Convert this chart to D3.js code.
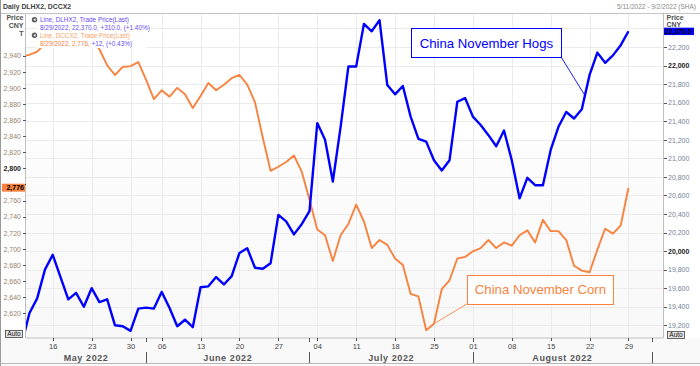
<!DOCTYPE html>
<html lang="en">
<head>
    <meta charset="UTF-8">
    <script src="https://d3js.org/d3.v7.min.js"></script>
    <title>DLHX2, DCCX2</title>
    <style>
        body { margin: 0; background: #ffffff; }
        svg { display: block; font-family: 'Liberation Sans', Arial, sans-serif; }
        .tick line { shape-rendering: crispEdges; }
    </style>
</head>
<body>
<svg id="chart" width="700" height="366"></svg>
<script>
// trading days shown on the axis (Shanghai calendar, 3 Jun holiday)
let dates = [
    '2022-05-10','2022-05-11','2022-05-12','2022-05-13',
    '2022-05-16','2022-05-17','2022-05-18','2022-05-19','2022-05-20',
    '2022-05-23','2022-05-24','2022-05-25','2022-05-26','2022-05-27',
    '2022-05-30','2022-05-31','2022-06-01','2022-06-02',
    '2022-06-06','2022-06-07','2022-06-08','2022-06-09','2022-06-10',
    '2022-06-13','2022-06-14','2022-06-15','2022-06-16','2022-06-17',
    '2022-06-20','2022-06-21','2022-06-22','2022-06-23','2022-06-24',
    '2022-06-27','2022-06-28','2022-06-29','2022-06-30','2022-07-01',
    '2022-07-04','2022-07-05','2022-07-06','2022-07-07','2022-07-08',
    '2022-07-11','2022-07-12','2022-07-13','2022-07-14','2022-07-15',
    '2022-07-18','2022-07-19','2022-07-20','2022-07-21','2022-07-22',
    '2022-07-25','2022-07-26','2022-07-27','2022-07-28','2022-07-29',
    '2022-08-01','2022-08-02','2022-08-03','2022-08-04','2022-08-05',
    '2022-08-08','2022-08-09','2022-08-10','2022-08-11','2022-08-12',
    '2022-08-15','2022-08-16','2022-08-17','2022-08-18','2022-08-19',
    '2022-08-22','2022-08-23','2022-08-24','2022-08-25','2022-08-26',
    '2022-08-29','2022-08-30','2022-08-31','2022-09-01','2022-09-02'
]

// China November Hogs (DLHX2), CNY/T, from 10 May to 29 Aug
let hogs = [
    18990, 19330, 19490, 19800,
    19960, 19720, 19480, 19550, 19400,
    19600, 19450, 19480, 19200, 19190,
    19140, 19380, 19390, 19380,
    19560, 19390, 19190, 19260, 19180,
    19610, 19620, 19720, 19640, 19730,
    19980, 20030, 19820, 19810, 19870,
    20390, 20320, 20180, 20290, 20430,
    21380, 21200, 20750, 21340, 21990,
    21990, 22450, 22370, 22490, 21790,
    21690, 21780, 21450, 21210, 21180,
    20980, 20870, 20980, 21610, 21650,
    21450, 21360, 21250, 21130, 21300,
    20980, 20570, 20790, 20710, 20710,
    21090, 21340, 21500, 21430, 21530,
    21900, 22140, 22030, 22110, 22220,
    22370
]

// China November Corn (DCCX2), CNY/T, same days
let corn = [
    2939, 2941, 2945, 2955,
    2966, 2972, 2968, 2975, 2970,
    2960, 2948, 2928, 2916, 2926,
    2927, 2932, 2910, 2886,
    2897, 2889, 2900, 2892, 2875,
    2890, 2906, 2897, 2904, 2912,
    2916, 2904, 2882, 2838, 2797,
    2802, 2808, 2816, 2796, 2761,
    2724, 2717, 2685, 2717, 2731,
    2755, 2734, 2701, 2711, 2705,
    2688, 2680, 2644, 2641, 2599,
    2607, 2650, 2661, 2688, 2690,
    2697, 2701, 2711, 2701, 2708,
    2704, 2717, 2723, 2708, 2736,
    2722, 2722, 2711, 2679, 2673,
    2671, 2699, 2725, 2719, 2729,
    2776
]

let cornTicks = d3.range(2620, 2941, 20)
let hogTicks = d3.range(19200, 22401, 200)
let legendLines = [
    ['Line, DLHX2, Trade Price(Last)'],
    ['8/29/2022, 22,370.0, +310.0, (+1.40%)'],
    ['Line, DCCX2, Trade Price(Last)'],
    ['8/29/2022, 2,776, ', '+12, (+0.43%)']
]

const BLUE = '#0000ff'
const ORANGE = '#f7833f'
const LEGBLUE = '#6a4cf5'
const pL = 26, pR = 663, pT = 13, pB = 338

let parse = d3.timeParse('%Y-%m-%d')
let days = dates.map(parse)
let svg = d3.select('#chart')

let x = d3.scaleLinear().domain([0.5, dates.length - 0.5]).range([25.5, 663.5])
let yL = d3.scaleLinear().domain([2589.3, 2993]).range([pB, pT])
let yR = d3.scaleLinear().domain([19063, 22567]).range([pB, pT])

// plot background
let defs = svg.append('defs')
let grad = defs.append('linearGradient')
    .attr('id', 'bg').attr('x1', 0).attr('y1', 0).attr('x2', 0).attr('y2', 1)
grad.append('stop').attr('offset', '0.38').attr('stop-color', '#ffffff')
grad.append('stop').attr('offset', '0.42').attr('stop-color', '#fcfcfc')
grad.append('stop').attr('offset', '1').attr('stop-color', '#f8f8f8')
defs.append('clipPath').attr('id', 'plotclip')
    .append('rect').attr('x', pL).attr('y', pT)
    .attr('width', pR - pL).attr('height', pB - pT)

svg.append('rect').attr('x', 0).attr('y', pB).attr('width', 700).attr('height', 366 - pB)
    .attr('fill', '#f9f9f9')
svg.append('rect').attr('x', pL).attr('y', pT).attr('width', pR - pL).attr('height', pB - pT)
    .attr('fill', 'url(#bg)')

// grid
let mondays = days.map((d, i) => i).filter(i => days[i].getDay() === 1)
let monthStarts = days.map((d, i) => i).filter(i => i > 0 && days[i].getMonth() !== days[i - 1].getMonth())

svg.append('g').selectAll('line').data(hogTicks).enter().append('line')
    .attr('x1', pL).attr('x2', pR)
    .attr('y1', d => Math.round(yR(d)) + 0.5).attr('y2', d => Math.round(yR(d)) + 0.5)
    .attr('stroke', '#ebebeb')
svg.append('g').selectAll('line').data(mondays).enter().append('line')
    .attr('x1', d => Math.round(x(d)) + 0.5).attr('x2', d => Math.round(x(d)) + 0.5)
    .attr('y1', pT).attr('y2', pB)
    .attr('stroke', '#ebebeb')

// series
let plot = svg.append('g').attr('clip-path', 'url(#plotclip)')
plot.append('path').datum(corn)
    .attr('d', d3.line().x((d, i) => x(i)).y(d => yL(d)))
    .attr('fill', 'none').attr('stroke', ORANGE).attr('stroke-width', 1.9)
    .attr('stroke-linejoin', 'round')
plot.append('path').datum(hogs)
    .attr('d', d3.line().x((d, i) => x(i)).y(d => yR(d)))
    .attr('fill', 'none').attr('stroke', BLUE).attr('stroke-width', 2.4)
    .attr('stroke-linejoin', 'round')

// frame
svg.append('line').attr('x1', 0).attr('x2', 700).attr('y1', pT + 0.5).attr('y2', pT + 0.5).attr('stroke', '#c4c4c4')
svg.append('line').attr('x1', 0.5).attr('x2', 0.5).attr('y1', 0).attr('y2', 366).attr('stroke', '#9a9a9a')
svg.append('line').attr('x1', 0).attr('x2', 700).attr('y1', 363.5).attr('y2', 363.5).attr('stroke', '#b8b8b8')

// left axis (corn)
let lastIdx = hogs.length - 1
let lastHog = hogs[lastIdx], lastCorn = corn[lastIdx]
let axL = svg.append('g').attr('transform', 'translate(25.5,0)')
    .call(d3.axisLeft(yL).tickValues(cornTicks).tickSize(3).tickSizeOuter(0).tickPadding(1.5)
        .tickFormat(d3.format(',')))
axL.select('.domain').attr('stroke', '#c0c0c0').attr('d', `M0,${pT}V${pB}`)
axL.selectAll('.tick line').attr('stroke', '#555')
axL.selectAll('.tick text')
    .attr('font-size', 7).attr('font-family', null)
    .attr('fill', d => d % 200 === 0 ? '#222' : '#9a8068')
    .attr('font-weight', d => d % 200 === 0 ? 'bold' : 'normal')
    .style('display', d => Math.abs(yL(d) - yL(lastCorn)) < 7 ? 'none' : null)

// right axis (hogs)
let axR = svg.append('g').attr('transform', 'translate(663.5,0)')
    .call(d3.axisRight(yR).tickValues(hogTicks).tickSize(3).tickSizeOuter(0).tickPadding(1.5)
        .tickFormat(d3.format(',')))
axR.select('.domain').attr('stroke', '#c0c0c0').attr('d', `M0,${pT}V${pB}`)
axR.selectAll('.tick line').attr('stroke', '#555')
axR.selectAll('.tick text')
    .attr('font-size', 7).attr('font-family', null)
    .attr('fill', d => d % 2000 === 0 ? '#222' : '#76809c')
    .attr('font-weight', d => d % 2000 === 0 ? 'bold' : 'normal')
    .style('display', d => Math.abs(yR(d) - yR(lastHog)) < 7 ? 'none' : null)

// bottom axis
let axB = svg.append('g').attr('transform', `translate(0,${pB})`)
    .call(d3.axisBottom(x).tickValues(mondays).tickSize(3).tickSizeOuter(0).tickPadding(3)
        .tickFormat(i => d3.timeFormat('%d')(days[i])))
axB.select('.domain').attr('stroke', '#c0c0c0').attr('d', `M${pL},0H${pR}`)
axB.selectAll('.tick line').attr('stroke', '#555')
axB.selectAll('.tick text').attr('font-size', 7.5).attr('font-family', null).attr('fill', '#444')

// month separators and labels
svg.append('g').selectAll('line').data(monthStarts).enter().append('line')
    .attr('x1', d => Math.round(x(d)) + 0.5).attr('x2', d => Math.round(x(d)) + 0.5)
    .attr('y1', pB).attr('y2', pB + 4)
    .attr('stroke', '#555')
svg.append('g').selectAll('line').data(monthStarts).enter().append('line')
    .attr('x1', d => Math.round(x(d)) + 0.5).attr('x2', d => Math.round(x(d)) + 0.5)
    .attr('y1', 352).attr('y2', 363)
    .attr('stroke', '#555')
let edges = [pL].concat(monthStarts.map(i => x(i)))
let months = edges.slice(0, -1).map((e, k) => ({
    label: d3.timeFormat('%B %Y')(days[k === 0 ? 0 : monthStarts[k - 1]]),
    cx: (e + edges[k + 1]) / 2
}))
svg.append('g').selectAll('text').data(months).enter().append('text')
    .attr('x', d => d.cx).attr('y', 360.5)
    .attr('text-anchor', 'middle').attr('font-size', 9).attr('font-weight', 'bold')
    .attr('letter-spacing', 0.6).attr('fill', '#555')
    .text(d => d.label)

// axis titles (right "T" sits under the last-value box in the original)
;[['Price', 20], ['CNY', 28], ['T', 36]].forEach(t => {
    svg.append('text').attr('x', 23.5).attr('y', t[1]).attr('text-anchor', 'end')
        .attr('font-size', 7).attr('font-weight', 'bold').attr('fill', '#505050').text(t[0])
})
;[['Price', 20], ['CNY', 26.8]].forEach(t => {
    svg.append('text').attr('x', 666.5).attr('y', t[1])
        .attr('font-size', 7).attr('font-weight', 'bold').attr('fill', '#505050').text(t[0])
})

// header
svg.append('text').attr('x', 3).attr('y', 9.3).attr('font-size', 6.9).attr('font-weight', 'bold')
    .attr('fill', '#404040').text('Daily DLHX2, DCCX2')
svg.append('text').attr('x', 696).attr('y', 9.3).attr('font-size', 6.5).attr('text-anchor', 'end')
    .attr('fill', '#8a8a8a').text('5/11/2022 - 9/2/2022 (SHA)')

// last value boxes
svg.append('rect').attr('x', 664).attr('y', yR(lastHog) - 3.6).attr('width', 30).attr('height', 7.4).attr('fill', BLUE)
svg.append('text').attr('x', 665).attr('y', yR(lastHog) + 2.5).attr('font-size', 6.8).attr('font-weight', 'bold')
    .attr('fill', '#000').text(d3.format(',.1f')(lastHog))
svg.append('rect').attr('x', 2).attr('y', yL(lastCorn) - 4).attr('width', 23).attr('height', 8).attr('fill', ORANGE)
svg.append('text').attr('x', 24).attr('y', yL(lastCorn) + 2.5).attr('font-size', 7).attr('font-weight', 'bold')
    .attr('text-anchor', 'end').attr('fill', '#000').text(d3.format(',')(lastCorn))

// "Auto" buttons
;[[5, 330], [667, 331]].forEach(p => {
    svg.append('rect').attr('x', p[0] + 0.5).attr('y', p[1] + 0.5).attr('width', 17).attr('height', 7)
        .attr('fill', '#e4e4e4').attr('stroke', '#404040').attr('stroke-width', 0.8)
    svg.append('text').attr('x', p[0] + 9).attr('y', p[1] + 6.3).attr('text-anchor', 'middle')
        .attr('font-size', 6.5).attr('fill', '#111').text('Auto')
})

// legend
svg.append('rect').attr('x', 37).attr('y', 14).attr('width', 110).attr('height', 34).attr('fill', '#fff')
;[19.8, 35.2].forEach(cy => {
    svg.append('circle').attr('cx', 34.5).attr('cy', cy).attr('r', 2.7).attr('fill', '#5a5a5a')
    svg.append('path').attr('d', `M33,${cy}L35.6,${cy - 1.5}L35.6,${cy + 1.5}Z`).attr('fill', '#e8e8e8')
})
let legY = [22, 30, 37.8, 46]
let legCol = [LEGBLUE, LEGBLUE, '#f9a36a', ORANGE]
legendLines.forEach((parts, k) => {
    let t = svg.append('text').attr('x', 40).attr('y', legY[k]).attr('font-size', 6.4)
    parts.forEach((p, j) => {
        t.append('tspan').attr('fill', j === 0 ? legCol[k] : LEGBLUE).text(p)
    })
})

// annotations
let notes = [
    { text: 'China November Hogs', color: BLUE, bx: 50.1, bTop: yR(22400), w: 150,
      corner: 'bottomright', at: 72.4, series: hogs, y: yR },
    { text: 'China November Corn', color: ORANGE, bx: 57.3, bTop: yL(2668), w: 146,
      corner: 'bottomleft', at: 53, series: corn, y: yL }
]
notes.forEach(n => {
    let i0 = Math.floor(n.at), f = n.at - i0
    let av = n.series[i0] + (n.series[Math.min(i0 + 1, lastIdx)] - n.series[i0]) * f
    let bxPx = x(n.bx)
    let cx = n.corner === 'bottomright' ? bxPx + n.w : bxPx
    svg.append('line').attr('x1', cx).attr('y1', n.bTop + 29).attr('x2', x(n.at)).attr('y2', n.y(av))
        .attr('stroke', n.color).attr('stroke-width', 0.9)
    svg.append('rect').attr('x', Math.round(bxPx) + 0.5).attr('y', Math.round(n.bTop) + 0.5)
        .attr('width', n.w).attr('height', 29)
        .attr('fill', '#fff').attr('stroke', n.color).attr('stroke-width', 1)
    svg.append('text').attr('x', bxPx + n.w / 2).attr('y', n.bTop + 19.3)
        .attr('text-anchor', 'middle').attr('font-size', 13.2).attr('fill', n.color)
        .text(n.text)
})
</script>
</body>
</html>
